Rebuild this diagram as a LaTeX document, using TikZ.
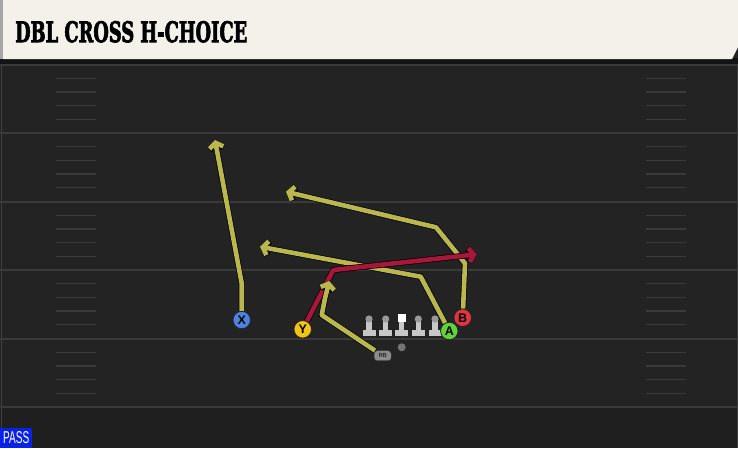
\documentclass[tikz,border=0pt]{standalone}
\usepackage{fontspec}
\usetikzlibrary{arrows.meta}
\newfontfamily\titlefont{DejaVu Serif}[FakeBold=3]
\newfontfamily\playerfont{Liberation Sans}
\definecolor{field}{HTML}{232323}
\definecolor{cream}{HTML}{F4F1EA}
\definecolor{yardline}{HTML}{3A3A3A}
\definecolor{routeyellow}{HTML}{B9B74E}
\definecolor{routered}{HTML}{A8163C}
\definecolor{xblue}{HTML}{4A84E0}
\definecolor{yyellow}{HTML}{F2C416}
\definecolor{agreen}{HTML}{62D33C}
\definecolor{bred}{HTML}{E4343F}
\definecolor{passblue}{HTML}{0A22E6}

\tikzset{
  player/.style={circle, draw=black!85, line width=0.8pt, minimum size=17.5pt,
    inner sep=0pt, font=\playerfont\bfseries\fontsize{12.5}{12.5}\selectfont},
  route/.style={line width=4.6pt, draw=routeyellow, line join=round,
    -{Straight Barb[length=5pt,width=14pt]},
    preaction={draw=black, line width=6pt}},
  hotroute/.style={route, draw=routered},
}

\begin{document}
\begin{tikzpicture}[x=1pt, y=-1pt]
    \useasboundingbox (0,0) rectangle (738,448);
    % field
    \fill[field] (0,0) rectangle (738,448);
    \fill[black!88] (0,408) rectangle (738,448);
    \fill[black!92] (0,58) rectangle (738,64);
    \draw[black!75, line width=1pt] (1,64) -- (1,448) (737,64) -- (737,448);

    \foreach \y in {64.5,133,201.5,270,338.5,407}
      \draw[yardline, line width=2pt] (0,\y) -- (738,\y);

    \foreach \k in {0,...,4}
      \foreach \j in {1,...,4}
      {
        \draw[yardline, line width=1.3pt] (56,64.5+68.5*\k+13.7*\j) -- (96,64.5+68.5*\k+13.7*\j);
        \draw[yardline, line width=1.3pt] (646,64.5+68.5*\k+13.7*\j) -- (686,64.5+68.5*\k+13.7*\j);
      }

    % title bar
    \fill[black!35] (0,0) rectangle (3,59);
    \fill[cream] (3,0) -- (738,0) -- (738,47) -- (732,59) -- (3,59) -- cycle;
    \node[anchor=south west, inner sep=0pt] (title) at (15,42.7)
      {\resizebox{232pt}{21pt}{\titlefont\bfseries DBL CROSS H-CHOICE}};

    % play type
    \node[fill=passblue, anchor=south west, minimum width=32pt, minimum height=20pt,
      inner sep=0pt, text=white] (pass) at (0,448)
      {\resizebox{26pt}{12pt}{\playerfont PASS}};

    % line
    \foreach \x in {369,385.7,418.3,435}
    {
      \fill[black!22] (\x-6.5,330) rectangle (\x+6.5,335.5);
      \fill[black!22] (\x-2.6,320) rectangle (\x+2.6,331);
      \fill[black!40] (\x,319) circle (3.6pt);
    }
    \fill[black!22] (395.2,330) rectangle (408.2,335.5);
    \fill[black!22] (399.1,320) rectangle (404.3,331);
    \fill[white] (397.5,313.5) rectangle (405.9,321.9);
    \node[circle, fill=black!55, minimum size=8pt, inner sep=0pt] (qb) at (401.7,347.3) {};

    % players
    \node[player, fill=xblue] (X) at (241.7,320) {X};
    \node[player, fill=yyellow] (Y) at (302.7,329.3) {Y};
    \node[player, fill=agreen] (A) at (449.3,331) {A};
    \node[player, fill=bred] (B) at (462.7,317.7) {B};
    \node[draw=black!80, fill=black!45, rounded corners=3pt, minimum width=17pt,
      minimum height=10pt, inner sep=0pt, font=\playerfont\fontsize{6}{6}\selectfont]
      (RB) at (382.7,355.7) {RB};

    % route points
    \coordinate (xbreak) at (241.7,283.3);
    \coordinate (xend) at (215,140);
    \coordinate (bstem) at (465,263.3);
    \coordinate (bbreak) at (436,227.3);
    \coordinate (bend) at (286,191.7);
    \coordinate (abreak) at (420.7,276.7);
    \coordinate (aend) at (260,246.7);
    \coordinate (ybreak) at (333.3,270);
    \coordinate (yend) at (476.7,254.3);
    \coordinate (rbflat) at (321.7,315);
    \coordinate (rbstem) at (325,298.3);
    \coordinate (rbend) at (329.3,281);

    % routes
    \draw[route] (X) -- (xbreak) -- (xend);
    \draw[route] (B) -- (bstem) -- (bbreak) -- (bend);
    \draw[route] (A) -- (abreak) -- (aend);
    \draw[hotroute] (Y) -- (ybreak) -- (yend);
    \draw[route] (RB) -- (rbflat) -- (rbstem) -- (rbend);
\end{tikzpicture}
\end{document}
